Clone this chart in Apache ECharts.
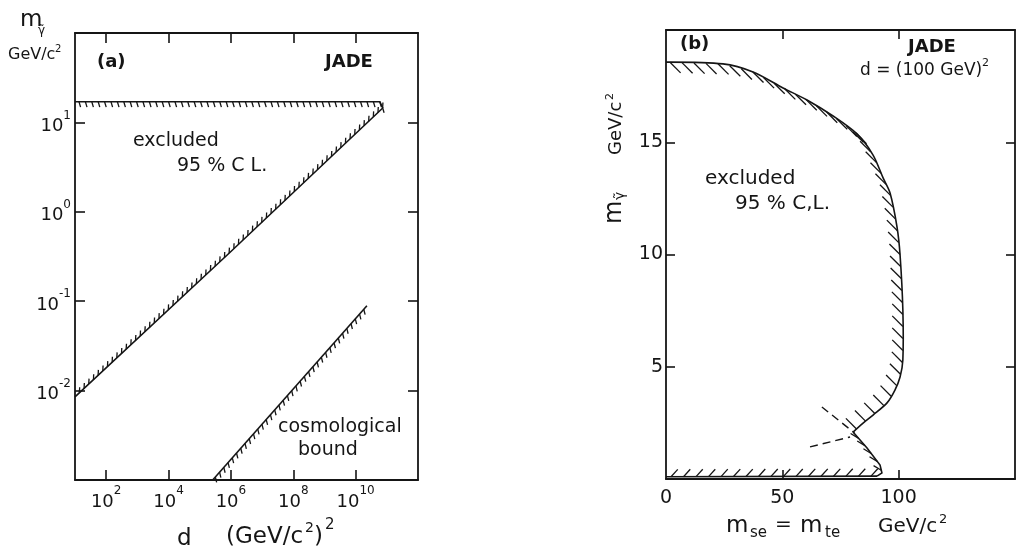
<!DOCTYPE html>
<html><head><meta charset="utf-8">
<script src="https://cdn.jsdelivr.net/npm/echarts@6/dist/echarts.min.js"></script>
<style>html,body{margin:0;padding:0;background:#fff}#c{width:1018px;height:553px}</style>
</head><body><div id="c"></div>
<script>
// ---------- Panel (a): log-log ----------
const aXTicks = [1e2, 1e4, 1e6, 1e8, 1e10];
const aYTicks = [1e-2, 1e-1, 1e0, 1e1];
const aUpperLimit = [[10, 17], [6e10, 17], [7.4e10, 14.5]];
const aLowerLimit = [[10, 0.0085], [1e6, 0.36], [7.4e10, 14.5]];
const aCosmoBound = [[2.6e5, 0.001], [2.3e10, 0.089]];
// ---------- Panel (b): linear ----------
const bXLabels = [0, 50, 100];
const bXTicks = [50, 100];
const bYTicks = [5, 10, 15];
const bContour = [[0, 18.57], [24.5, 18.49], [37.4, 18.13], [50.3, 17.42], [60.6, 16.88], [71.8, 16.17],
  [82.1, 15.37], [89.0, 14.43], [93.3, 13.41], [96.3, 12.74], [99.3, 11.22], [100.6, 9.98], [101.8, 7.53],
  [101.8, 5.30], [100.6, 4.54], [98.4, 3.96], [95.0, 3.39], [89.0, 2.85], [84.7, 2.49], [80.4, 2.09]];
const bLowerBranch = [[80.4, 2.09], [86.4, 1.38], [92.0, 0.62], [92.8, 0.27], [90.7, 0.13]];
const bBottom = [[90.7, 0.13], [0, 0.1]];
const bDash1 = [[67.0, 3.21], [81.0, 2.05]];
const bDash2 = [[61.9, 1.43], [79.1, 1.87]];

const FONT = 'DejaVu Sans';
const INK = '#151515';

function hatchSeries(xi, yi, pts, opt) {
  return {
    type: 'custom', xAxisIndex: xi, yAxisIndex: yi, data: pts, silent: true, clip: false, z: 5,
    renderItem(params, api) {
      if (params.dataIndex !== 0) return null;
      const P = pts.map(p => api.coord(p));
      const ch = [];
      ch.push({ type: 'polyline', shape: { points: P, smooth: opt.smooth || 0 },
        style: { stroke: INK, lineWidth: opt.lw || 1.6, fill: null, lineDash: opt.dash || null } });
      if (opt.hatch) {
        const h = opt.hatch;
        const dl = Math.hypot(h.dir[0], h.dir[1]);
        const d0 = [h.dir[0] / dl, h.dir[1] / dl];
        let pos = h.start || 0;
        for (let i = 0; i < P.length - 1; i++) {
          const x0 = P[i][0], y0 = P[i][1], x1 = P[i + 1][0], y1 = P[i + 1][1];
          const L = Math.hypot(x1 - x0, y1 - y0);
          if (!L) continue;
          const tx = (x1 - x0) / L, ty = (y1 - y0) / L;
          const nx = -ty * h.side, ny = tx * h.side;
          let d = d0;
          if (d[0] * nx + d[1] * ny < 0) d = [-d0[0], -d0[1]];
          while (pos <= L) {
            const px = x0 + tx * pos, py = y0 + ty * pos;
            ch.push({ type: 'line', shape: { x1: px, y1: py, x2: px + d[0] * h.len, y2: py + d[1] * h.len },
              style: { stroke: INK, lineWidth: h.lw || 1.3 } });
            pos += h.gap;
          }
          pos -= L;
        }
      }
      return { type: 'group', children: ch };
    }
  };
}

const supRich = {
  b: { fontSize: 18, lineHeight: 26, verticalAlign: 'bottom', fontFamily: FONT, color: INK },
  s: { fontSize: 12, lineHeight: 12, verticalAlign: 'top', fontFamily: FONT, color: INK }
};
function powFmt(v) {
  const e = Math.round(Math.log10(v));
  return '{b|10}{s|' + e + '}';
}
// text placed by baseline
function T(x, base, text, size, weight) {
  return { type: 'text', x: x, y: base + 0.2 * size, silent: true,
    style: { text: text, font: (weight || 'normal') + ' ' + size + 'px "' + FONT + '"', fill: INK,
      align: 'left', verticalAlign: 'bottom' } };
}

const tickStyle = { color: INK, width: 1.6 };
const lineStyle = { color: INK, width: 1.8 };
const axLine = { show: true, onZero: false, lineStyle };

const option = {
  backgroundColor: '#fff',
  animation: false,
  grid: [
    { left: 75, top: 33, width: 343, height: 447 },
    { left: 666, top: 30, width: 349, height: 449 }
  ],
  xAxis: [
    { type: 'log', gridIndex: 0, min: 10, max: 1e12, logBase: 10, position: 'bottom',
      axisLine: axLine, splitLine: { show: false },
      axisTick: { show: true, inside: true, length: 10, customValues: aXTicks, lineStyle: tickStyle },
      axisLabel: { customValues: aXTicks, formatter: powFmt, rich: supRich, margin: 5 } },
    { type: 'log', gridIndex: 0, min: 10, max: 1e12, logBase: 10, position: 'top',
      axisLine: axLine, splitLine: { show: false },
      axisTick: { show: true, inside: true, length: 10, customValues: aXTicks, lineStyle: tickStyle },
      axisLabel: { show: false } },
    { type: 'value', gridIndex: 1, min: 0, max: 150, interval: 50, position: 'bottom',
      axisLine: axLine, splitLine: { show: false },
      axisTick: { show: true, inside: true, length: 9, customValues: bXTicks, lineStyle: tickStyle },
      axisLabel: { customValues: bXLabels, margin: 10, fontSize: 19, fontFamily: FONT, color: INK } },
    { type: 'value', gridIndex: 1, min: 0, max: 150, interval: 50, position: 'top',
      axisLine: axLine, splitLine: { show: false },
      axisTick: { show: true, inside: true, length: 9, customValues: bXTicks, lineStyle: tickStyle },
      axisLabel: { show: false } }
  ],
  yAxis: [
    { type: 'log', gridIndex: 0, min: 1e-3, max: 1e2, logBase: 10, position: 'left',
      axisLine: axLine, splitLine: { show: false },
      axisTick: { show: true, inside: true, length: 10, customValues: aYTicks, lineStyle: tickStyle },
      axisLabel: { customValues: aYTicks, formatter: powFmt, rich: supRich, margin: 4 } },
    { type: 'log', gridIndex: 0, min: 1e-3, max: 1e2, logBase: 10, position: 'right',
      axisLine: axLine, splitLine: { show: false },
      axisTick: { show: true, inside: true, length: 10, customValues: aYTicks, lineStyle: tickStyle },
      axisLabel: { show: false } },
    { type: 'value', gridIndex: 1, min: 0, max: 20, interval: 5, position: 'left',
      axisLine: axLine, splitLine: { show: false },
      axisTick: { show: true, inside: true, length: 9, customValues: bYTicks, lineStyle: tickStyle },
      axisLabel: { customValues: bYTicks, margin: 3, fontSize: 19, fontFamily: FONT, color: INK } },
    { type: 'value', gridIndex: 1, min: 0, max: 20, interval: 5, position: 'right',
      axisLine: axLine, splitLine: { show: false },
      axisTick: { show: true, inside: true, length: 9, customValues: bYTicks, lineStyle: tickStyle },
      axisLabel: { show: false } }
  ],
  series: [
    hatchSeries(0, 0, aUpperLimit, { hatch: { dir: [0.3, 1], side: 1, gap: 6.4, len: 5.5, start: 4 } }),
    hatchSeries(0, 0, aLowerLimit, { hatch: { dir: [0.05, -1], side: -1, gap: 6.4, len: 5.5, start: 6 } }),
    hatchSeries(0, 0, aCosmoBound, { hatch: { dir: [0.25, 1], side: 1, gap: 6.4, len: 5.5, start: 4 } }),
    hatchSeries(2, 2, bContour, { smooth: 0.3, hatch: { dir: [1, 1], side: 1, gap: 12, len: 15, start: 4 } }),
    hatchSeries(2, 2, bLowerBranch, { hatch: { dir: [1, 0.6], side: 1, gap: 10, len: 9, start: 8 } }),
    hatchSeries(2, 2, bBottom, { hatch: { dir: [1, -1.1], side: 1, gap: 12.5, len: 10, start: 6 } }),
    hatchSeries(2, 2, bDash1, { lw: 1.4, dash: [8, 5] }),
    hatchSeries(2, 2, bDash2, { lw: 1.4, dash: [8, 5] })
  ],
  graphic: [
    // panel (a) labels
    T(20, 27, 'm', 23),
    T(38, 34, 'γ̃', 12),
    T(8, 60, 'GeV/c', 16),
    T(55, 52, '2', 10),
    T(97, 68, '(a)', 18, 'bold'),
    T(325, 68, 'JADE', 18, 'bold'),
    T(133, 147, 'excluded', 19),
    T(177, 172, '95 % C L.', 19),
    T(278, 433, 'cosmological', 19),
    T(298, 456, 'bound', 19),
    T(177, 546, 'd', 23),
    T(226, 544, '(GeV/c', 23),
    T(305, 533, '2', 14),
    T(314, 544, ')', 23),
    T(325, 530, '2', 15),
    // panel (b) labels
    T(680, 50, '(b)', 18, 'bold'),
    T(908, 53, 'JADE', 18, 'bold'),
    T(860, 76, 'd = (100 GeV)', 17),
    T(982, 66, '2', 11),
    T(705, 185, 'excluded', 20),
    T(735, 210, '95 % C,L.', 20),
    { type: 'group', x: 622, y: 224, rotation: Math.PI / 2, silent: true, children: [
      T(0, 0, 'm', 24),
      T(24, 3, 'γ̃', 14),
      T(69, 0, 'GeV/c', 18),
      T(124, -9, '2', 11)
    ] },
    T(726, 533, 'm', 23),
    T(750, 538, 'se', 15),
    T(775, 531, '=', 20),
    T(800, 533, 'm', 23),
    T(825, 538, 'te', 15),
    T(878, 533, 'GeV/c', 20),
    T(939, 524, '2', 13)
  ]
};

const chart = echarts.init(document.getElementById('c'), null, { renderer: 'canvas' });
chart.setOption(option);
</script>
</body></html>
